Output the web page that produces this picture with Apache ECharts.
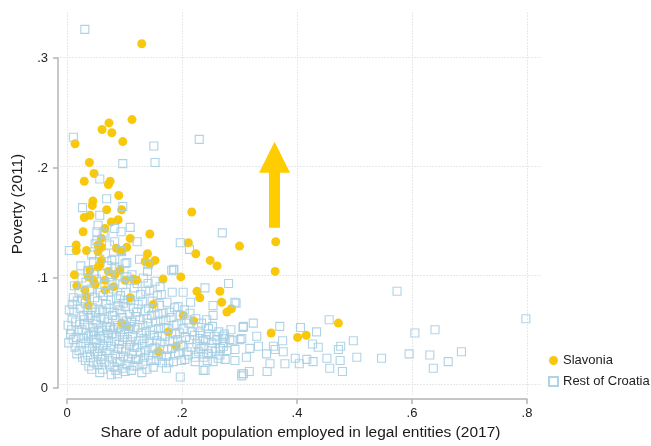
<!DOCTYPE html>
<html>
<head>
<meta charset="utf-8">
<script src="https://cdn.jsdelivr.net/npm/echarts@6/dist/echarts.min.js"></script>
<style>
  html, body { margin: 0; padding: 0; background: #ffffff; }
  #chart { width: 651px; height: 446px; }
</style>
</head>
<body>
<div id="chart"></div>
<script>
// Axis ticks
const xTicks = [0, 0.2, 0.4, 0.6, 0.8];
const yTicks = [0, 0.1, 0.2, 0.3];

// Municipalities in Slavonia: [employment share, poverty rate]
const slavonia = [
  [0.130,0.313],[0.113,0.244],[0.073,0.241],[0.061,0.235],[0.078,0.232],[0.097,0.224],
  [0.014,0.222],[0.039,0.205],[0.047,0.195],[0.075,0.188],[0.072,0.185],[0.030,0.188],
  [0.090,0.175],[0.045,0.170],[0.044,0.166],[0.030,0.155],[0.040,0.157],[0.095,0.162],
  [0.089,0.153],[0.077,0.151],[0.217,0.160],[0.028,0.142],[0.144,0.140],[0.060,0.136],
  [0.016,0.130],[0.016,0.125],[0.034,0.125],[0.060,0.128],[0.086,0.127],[0.110,0.136],
  [0.095,0.125],[0.211,0.132],[0.224,0.122],[0.249,0.116],[0.261,0.111],[0.300,0.129],
  [0.140,0.122],[0.136,0.115],[0.153,0.116],[0.144,0.113],[0.013,0.103],[0.040,0.107],
  [0.057,0.112],[0.072,0.106],[0.066,0.098],[0.046,0.098],[0.092,0.107],[0.101,0.098],
  [0.115,0.099],[0.167,0.099],[0.198,0.101],[0.017,0.093],[0.031,0.089],[0.081,0.092],
  [0.110,0.082],[0.226,0.088],[0.231,0.082],[0.266,0.088],[0.269,0.078],[0.278,0.069],
  [0.286,0.072],[0.150,0.076],[0.037,0.075],[0.202,0.066],[0.220,0.061],[0.095,0.059],
  [0.104,0.056],[0.176,0.051],[0.190,0.038],[0.159,0.033],[0.363,0.133],[0.362,0.106],
  [0.355,0.050],[0.401,0.046],[0.416,0.048],[0.472,0.059],[0.069,0.162],[0.066,0.145],
  [0.054,0.124],[0.054,0.130],[0.060,0.116],[0.054,0.110],[0.037,0.101],[0.066,0.089],
  [0.049,0.094],[0.034,0.083],[0.083,0.103],[0.104,0.128],[0.121,0.098]
];

// Municipalities in the rest of Croatia: [employment share, poverty rate]
const restOfCroatia = [
  [0.031,0.326],[0.011,0.228],[0.151,0.220],[0.230,0.226],[0.097,0.204],[0.153,0.205],
  [0.057,0.190],[0.069,0.172],[0.027,0.164],[0.097,0.165],[0.057,0.157],[0.054,0.148],
  [0.110,0.146],[0.094,0.142],[0.066,0.139],[0.004,0.125],[0.122,0.133],[0.078,0.116],
  [0.270,0.141],[0.197,0.132],[0.140,0.106],[0.186,0.108],[0.281,0.095],[0.240,0.091],
  [0.202,0.087],[0.141,0.095],[0.162,0.092],[0.011,0.082],[0.254,0.075],[0.307,0.056],
  [0.254,0.066],[0.253,0.056],[0.197,0.010],[0.301,0.044],[0.292,0.025],[0.085,0.016],
  [0.130,0.014],[0.112,0.016],[0.173,0.018],[0.237,0.016],[0.307,0.013],
  [0.213,0.126],[0.185,0.107],[0.292,0.078],[0.215,0.078],[0.306,0.055],[0.324,0.059],
  [0.370,0.056],[0.272,0.047],[0.285,0.053],[0.304,0.045],[0.330,0.047],[0.333,0.038],
  [0.318,0.036],[0.312,0.028],[0.347,0.031],[0.359,0.038],[0.376,0.033],[0.379,0.022],
  [0.353,0.022],[0.304,0.013],[0.317,0.015],[0.348,0.015],[0.275,0.026],[0.292,0.035],
  [0.266,0.030],[0.254,0.024],[0.240,0.016],[0.223,0.024],[0.272,0.038],[0.252,0.036],
  [0.237,0.038],[0.237,0.031],[0.283,0.044],[0.246,0.054],[0.231,0.050],
  [0.574,0.088],[0.798,0.063],[0.456,0.062],[0.406,0.055],[0.434,0.051],[0.605,0.050],
  [0.640,0.053],[0.498,0.043],[0.437,0.037],[0.476,0.038],[0.472,0.035],[0.427,0.040],
  [0.397,0.027],[0.417,0.026],[0.428,0.024],[0.452,0.027],[0.457,0.018],[0.475,0.025],
  [0.479,0.015],[0.504,0.028],[0.547,0.027],[0.595,0.031],[0.631,0.030],[0.637,0.018],
  [0.663,0.024],[0.686,0.033],[0.404,0.022],[0.294,0.077],[0.273,0.045],[0.289,0.043],
  [0.375,0.043],[0.362,0.035],[0.304,0.011],
  [0.052,0.142],[0.083,0.145],[0.049,0.131],[0.083,0.133],[0.095,0.124],[0.101,0.113],
  [0.046,0.115],[0.182,0.107],[0.141,0.112],[0.037,0.107],[0.083,0.110],[0.104,0.101],
  [0.026,0.100],[0.075,0.101],
  [0.004,0.071],[0.009,0.063],[0.002,0.057],[0.006,0.049],[0.011,0.044],[0.003,0.041],[0.008,0.053],
  [0.013,0.093],[0.018,0.079],[0.012,0.069],[0.015,0.060],[0.019,0.052],[0.016,0.046],[0.014,0.037],
  [0.017,0.031],[0.010,0.076],
  [0.024,0.111],[0.021,0.087],[0.027,0.081],[0.023,0.072],[0.029,0.066],[0.022,0.058],[0.026,0.053],
  [0.028,0.045],[0.024,0.040],[0.021,0.034],[0.027,0.028],[0.036,0.106],[0.033,0.096],[0.039,0.088],
  [0.032,0.077],[0.035,0.071],[0.038,0.064],[0.031,0.058],[0.034,0.050],[0.037,0.047],[0.033,0.041],
  [0.039,0.036],[0.036,0.030],[0.032,0.025],[0.038,0.020],[0.030,0.062],
  [0.043,0.121],[0.047,0.104],[0.042,0.090],[0.048,0.082],[0.044,0.073],[0.041,0.066],[0.049,0.061],
  [0.045,0.055],[0.042,0.049],[0.047,0.044],[0.044,0.038],[0.048,0.033],[0.041,0.028],[0.046,0.023],
  [0.043,0.017],[0.052,0.134],[0.057,0.117],[0.051,0.099],[0.058,0.087],[0.053,0.079],[0.056,0.071],
  [0.059,0.064],[0.052,0.058],[0.055,0.052],[0.058,0.047],[0.051,0.041],[0.056,0.036],[0.053,0.031],
  [0.059,0.026],[0.054,0.021],[0.057,0.014],[0.050,0.069],[0.046,0.051],
  [0.063,0.141],[0.067,0.122],[0.061,0.104],[0.066,0.094],[0.063,0.084],[0.068,0.076],[0.062,0.070],
  [0.065,0.062],[0.069,0.056],[0.061,0.052],[0.066,0.045],[0.063,0.039],[0.068,0.034],[0.061,0.029],
  [0.065,0.023],[0.062,0.017],[0.074,0.130],[0.071,0.111],[0.078,0.096],[0.072,0.087],[0.076,0.080],
  [0.073,0.072],[0.079,0.066],[0.071,0.060],[0.075,0.055],[0.078,0.049],[0.072,0.043],[0.076,0.038],
  [0.073,0.032],[0.079,0.027],[0.074,0.021],[0.077,0.012],[0.070,0.050],[0.064,0.048],
  [0.083,0.117],[0.087,0.102],[0.081,0.090],[0.086,0.081],[0.089,0.075],[0.082,0.069],[0.085,0.062],
  [0.088,0.057],[0.081,0.053],[0.086,0.047],[0.083,0.042],[0.089,0.036],[0.084,0.030],[0.087,0.024],
  [0.082,0.019],[0.088,0.013],[0.094,0.125],[0.091,0.108],[0.097,0.094],[0.093,0.084],[0.098,0.077],
  [0.092,0.071],[0.096,0.064],[0.099,0.058],[0.093,0.051],[0.097,0.046],[0.091,0.040],[0.095,0.035],
  [0.098,0.029],[0.092,0.024],[0.096,0.018],[0.090,0.055],
  [0.104,0.114],[0.108,0.098],[0.102,0.087],[0.106,0.080],[0.101,0.074],[0.109,0.067],[0.103,0.061],
  [0.107,0.054],[0.100,0.049],[0.105,0.044],[0.109,0.039],[0.102,0.033],[0.107,0.027],[0.104,0.021],
  [0.101,0.015],[0.113,0.103],[0.117,0.091],[0.111,0.080],[0.116,0.072],[0.119,0.065],[0.112,0.060],
  [0.118,0.053],[0.114,0.047],[0.111,0.042],[0.117,0.037],[0.113,0.031],[0.119,0.026],[0.115,0.020],
  [0.110,0.056],
  [0.126,0.117],[0.122,0.095],[0.128,0.085],[0.124,0.076],[0.121,0.069],[0.127,0.062],[0.123,0.055],
  [0.129,0.050],[0.125,0.043],[0.121,0.037],[0.128,0.032],[0.124,0.026],[0.122,0.020],[0.133,0.100],
  [0.137,0.088],[0.131,0.079],[0.136,0.070],[0.139,0.063],[0.132,0.057],[0.138,0.051],[0.134,0.045],
  [0.131,0.040],[0.137,0.034],[0.135,0.028],[0.132,0.022],[0.139,0.017],
  [0.144,0.089],[0.148,0.079],[0.142,0.072],[0.147,0.066],[0.141,0.059],[0.149,0.053],[0.145,0.048],
  [0.143,0.042],[0.148,0.036],[0.142,0.030],[0.146,0.025],[0.153,0.097],[0.157,0.084],[0.151,0.073],
  [0.158,0.067],[0.154,0.060],[0.159,0.054],[0.152,0.048],[0.156,0.043],[0.153,0.037],[0.158,0.031],
  [0.155,0.025],[0.150,0.019],
  [0.164,0.085],[0.161,0.075],[0.167,0.068],[0.163,0.061],[0.169,0.055],[0.165,0.047],[0.162,0.041],
  [0.168,0.035],[0.164,0.029],[0.166,0.023],[0.174,0.078],[0.178,0.069],[0.172,0.062],[0.176,0.054],
  [0.171,0.047],[0.179,0.042],[0.175,0.035],[0.173,0.029],[0.177,0.023],[0.183,0.087],[0.187,0.073],
  [0.181,0.064],[0.186,0.057],[0.189,0.049],[0.184,0.043],[0.182,0.036],[0.188,0.030],[0.185,0.024],
  [0.193,0.074],[0.197,0.066],[0.191,0.058],[0.196,0.050],[0.192,0.044],[0.198,0.038],[0.194,0.032],
  [0.199,0.025],
  [0.204,0.071],[0.208,0.062],[0.202,0.054],[0.206,0.046],[0.201,0.039],[0.209,0.033],[0.205,0.026],
  [0.214,0.068],[0.212,0.059],[0.218,0.051],[0.213,0.044],[0.217,0.037],[0.211,0.030],[0.224,0.063],
  [0.228,0.055],[0.222,0.048],[0.226,0.040],[0.229,0.033],[0.223,0.028],[0.234,0.059],[0.231,0.045],
  [0.237,0.043],[0.233,0.036],[0.238,0.028],[0.243,0.062],[0.247,0.049],[0.241,0.044],[0.246,0.031],
  [0.244,0.025],[0.256,0.047],[0.252,0.041],[0.258,0.033],[0.264,0.051],[0.261,0.044],[0.267,0.036],
  [0.263,0.027],[0.274,0.049],[0.271,0.041],[0.278,0.034]
];

// Upward arrow annotation, in data units
const arrowX = 0.361;
const arrowFrom = 0.1457;
const arrowTo = 0.2097;

const FONT = '"Liberation Sans", Arial, Helvetica, sans-serif';
const GOLD = '#F8C500';
const LIGHT_BLUE = '#A6CEE3';

const tickText = v => (Math.abs(v) < 1e-9 ? '0' : v.toFixed(1).replace(/^0/, ''));

const chart = echarts.init(document.getElementById('chart'), null, { renderer: 'canvas' });

chart.setOption({
  animation: false,
  backgroundColor: '#ffffff',
  textStyle: { fontFamily: FONT },
  grid: [
    // plot region (background grid lines and axis titles)
    { left: 60, right: 110, top: 12, bottom: 46 },
    // data region spanning exactly the tick range
    { left: 67, right: 124, top: 58, bottom: 58 }
  ],
  xAxis: [
    {
      gridIndex: 0, type: 'value', min: -7 / 575, max: 474 / 575,
      axisLine: { show: false }, axisLabel: { show: false },
      axisTick: { show: false, customValues: xTicks },
      splitLine: { show: true, lineStyle: { color: '#e8e8e8', width: 1, type: [2, 1] } },
      name: 'Share of adult population employed in legal entities (2017)',
      nameLocation: 'middle', nameGap: 29,
      nameTextStyle: { fontSize: 15.5, color: '#1a1a1a', fontFamily: FONT }
    },
    {
      gridIndex: 1, type: 'value', min: 0, max: 0.8, interval: 0.2, offset: 11,
      axisLine: { show: true, onZero: false, lineStyle: { color: '#b4b4b4', width: 1.5 } },
      axisTick: { show: true, length: 5, lineStyle: { color: '#b4b4b4', width: 1.5 } },
      axisLabel: { show: true, margin: 8, fontSize: 13, color: '#222', fontFamily: FONT, formatter: tickText },
      splitLine: { show: false }
    }
  ],
  yAxis: [
    {
      gridIndex: 0, type: 'value', min: -12 / 1100, max: 376 / 1100,
      axisLine: { show: false }, axisLabel: { show: false },
      axisTick: { show: false, customValues: yTicks },
      splitLine: { show: true, lineStyle: { color: '#e8e8e8', width: 1, type: [2, 1] } },
      name: 'Poverty (2011)',
      nameLocation: 'middle', nameGap: 34,
      nameTextStyle: { fontSize: 15.5, color: '#1a1a1a', fontFamily: FONT }
    },
    {
      gridIndex: 1, type: 'value', min: 0, max: 0.3, interval: 0.1, offset: 9,
      axisLine: { show: true, onZero: false, lineStyle: { color: '#b4b4b4', width: 1.5 } },
      axisTick: { show: true, length: 5, lineStyle: { color: '#b4b4b4', width: 1.5 } },
      axisLabel: { show: true, margin: 10, fontSize: 13, color: '#222', fontFamily: FONT, formatter: tickText },
      splitLine: { show: false }
    }
  ],
  legend: {
    orient: 'vertical',
    left: 543, top: 349,
    itemWidth: 9, itemHeight: 9, itemGap: 8,
    textStyle: { fontSize: 13, color: '#222', fontFamily: FONT },
    data: [
      { name: 'Slavonia', icon: 'circle' },
      { name: 'Rest of Croatia', icon: 'rect' }
    ]
  },
  series: [
    {
      name: 'Slavonia',
      type: 'scatter',
      xAxisIndex: 1, yAxisIndex: 1,
      clip: false,
      symbol: 'circle',
      symbolSize: 9,
      itemStyle: { color: GOLD, opacity: 0.95 },
      data: slavonia,
      z: 2,
      markLine: {
        silent: true,
        animation: false,
        symbol: ['none', 'triangle'],
        symbolSize: 31,
        label: { show: false },
        emphasis: { disabled: true },
        lineStyle: { color: '#FFCC00', width: 11, type: 'solid', opacity: 1 },
        data: [[{ coord: [arrowX, arrowFrom] }, { coord: [arrowX, arrowTo] }]]
      }
    },
    {
      name: 'Rest of Croatia',
      type: 'scatter',
      xAxisIndex: 1, yAxisIndex: 1,
      clip: false,
      symbol: 'rect',
      symbolSize: 8,
      itemStyle: { color: 'rgba(255,255,255,0)', borderColor: LIGHT_BLUE, borderWidth: 1.1, opacity: 0.9 },
      data: restOfCroatia,
      z: 3
    }
  ]
});
</script>
</body>
</html>
